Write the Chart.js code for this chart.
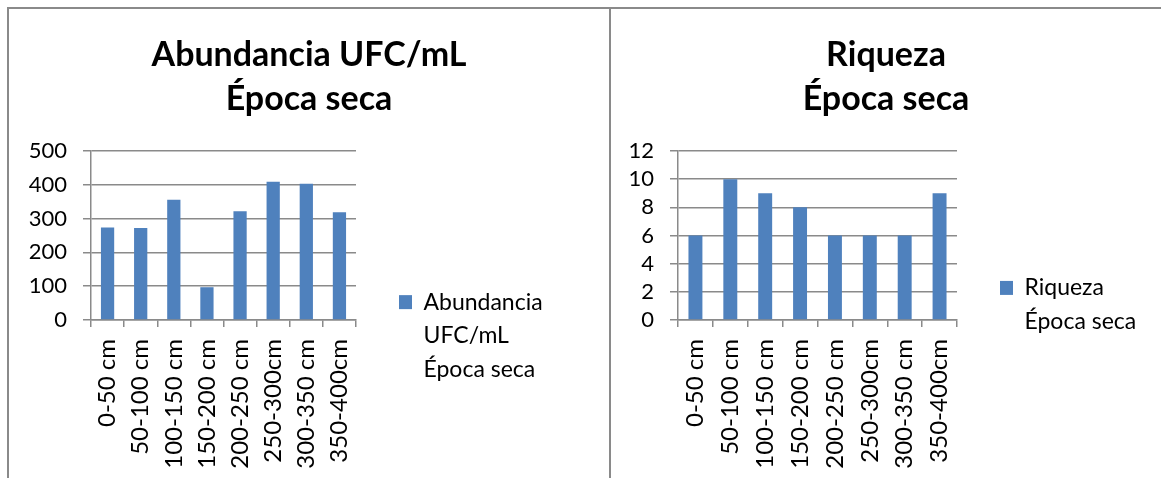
<!DOCTYPE html>
<html><head><meta charset="utf-8">
<script src="https://cdn.jsdelivr.net/npm/chart.js@4.4.1/dist/chart.umd.min.js"></script>
<style>
html,body{margin:0;padding:0;background:#fff;overflow:hidden;width:1161px;height:478px;}
#frame{position:absolute;left:7px;top:7px;width:1154px;height:471px;border-top:2px solid #8a8a8a;border-left:2px solid #8a8a8a;box-sizing:border-box;}
#divider{position:absolute;left:609px;top:7px;width:2px;height:471px;background:#8a8a8a;}
.box{position:absolute;top:9px;}
#b1{left:9px;width:600px;height:664px;}
#b2{left:611px;width:550px;height:602px;}
</style>
</head><body>
<div id="frame"></div>
<div class="box" id="b1"><canvas id="c1"></canvas></div>
<div class="box" id="b2"><canvas id="c2"></canvas></div>
<div id="divider"></div>
<script>
const categories = ['0-50 cm','50-100 cm','100-150 cm','150-200 cm','200-250 cm','250-300cm','300-350 cm','350-400cm'];
const abundancia = [274, 272, 356, 97, 322, 409, 403, 319];
const riqueza = [6, 10, 9, 8, 6, 6, 6, 9];
const title1 = ['Abundancia UFC/mL', 'Época seca'];
const title2 = ['Riqueza', 'Época seca'];
const legend1 = ['Abundancia', 'UFC/mL', 'Época seca'];
const legend2 = ['Riqueza', 'Época seca'];

const FONT = 'Lato, "Open Sans", sans-serif';
const GRID = '#8a8a8a';
const BAR = '#4F81BD';

// lets the right-hand legend take the width it needs
const legendWidthPlugin = {
  id: 'legendWidth',
  beforeLayout(chart, args, opts) {
    const lg = chart.legend;
    if (lg && !lg._wPatched) {
      const orig = lg.fit;
      lg.fit = function() { orig.call(this); if (!this.isHorizontal()) this.width = opts.width; };
      lg._wPatched = true;
    }
  }
};

function makeChart(id, data, title, legendLines, yMax, yStep, cfg) {
  return new Chart(document.getElementById(id), {
    type: 'bar',
    plugins: [legendWidthPlugin],
    data: {
      labels: categories,
      datasets: [{
        label: legendLines.join(' '),
        data: data,
        backgroundColor: BAR,
        borderWidth: 0,
        barPercentage: 0.4,
        categoryPercentage: 1.0
      }]
    },
    options: {
      responsive: true,
      maintainAspectRatio: false,
      animation: false,
      devicePixelRatio: 1,
      layout: { padding: 0 },
      plugins: {
        tooltip: { enabled: false },
        legendWidth: { width: cfg.legendWidth },
        title: {
          display: true,
          text: title,
          color: '#000',
          font: { family: FONT, size: 34, weight: 'bold', lineHeight: 1.3 },
          padding: { top: 24, bottom: 29.6 }
        },
        legend: {
          display: true,
          position: 'right',
          align: 'center',
          labels: {
            color: '#000',
            boxWidth: 13,
            boxHeight: 14,
            padding: cfg.legendPad,
            font: { family: FONT, size: 23, lineHeight: 1.46 },
            generateLabels: function(chart) {
              const items = Chart.defaults.plugins.legend.labels.generateLabels(chart);
              items.forEach(it => { it.text = legendLines; it.lineWidth = 0; });
              return items;
            }
          }
        }
      },
      scales: {
        x: {
          grid: { display: true, drawOnChartArea: false, offset: true, color: GRID, lineWidth: 1.5, tickLength: 7 },
          border: { display: true, color: GRID, width: 1.5 },
          ticks: { color: '#000', font: { family: FONT, size: 24 }, maxRotation: 90, minRotation: 90, padding: 12, autoSkip: false },
          afterFit: function(s) { s.height = cfg.xHeight; }
        },
        y: {
          min: 0, max: yMax,
          grid: { color: GRID, lineWidth: 1.5, tickLength: 8 },
          border: { display: true, color: GRID, width: 1.5 },
          ticks: { stepSize: yStep, autoSkip: false, color: '#000', font: { family: FONT, size: 22 }, padding: 16 },
          afterFit: function(s) { s.width = cfg.yWidth; }
        }
      }
    }
  });
}

makeChart('c1', abundancia, title1, legend1, 500, 100, { legendWidth: 253, legendPad: 43, xHeight: 664 - 311, yWidth: 82 });
makeChart('c2', riqueza, title2, legend2, 12, 2, { legendWidth: 204, legendPad: 43, xHeight: 602 - 311, yWidth: 67 });
</script>
</body></html>
